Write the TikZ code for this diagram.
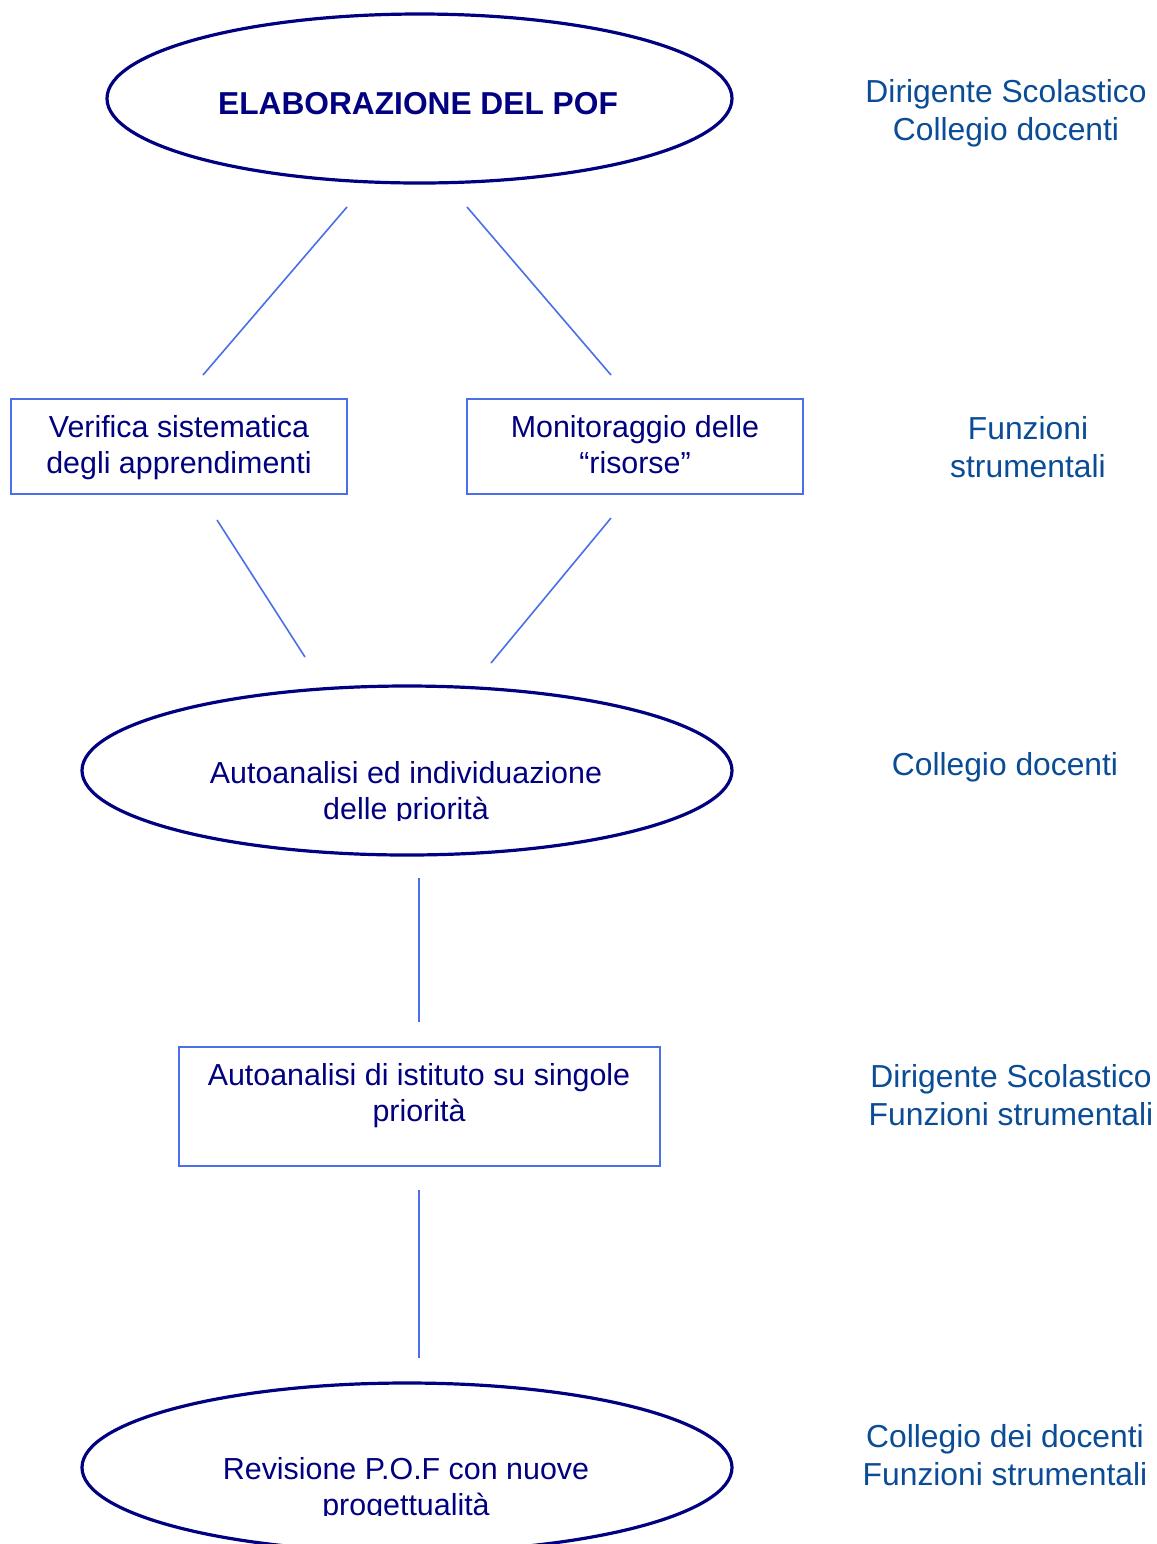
\documentclass[tikz,border=0pt]{standalone}
\usepackage{fontspec}
\setmainfont{Liberation Sans}
\usetikzlibrary{shapes.geometric}
\definecolor{navy}{HTML}{000080}
\definecolor{lineblue}{HTML}{4A6FE8}
\definecolor{sidetext}{HTML}{0B4C96}
\begin{document}
\begin{tikzpicture}[x=0.5pt,y=-0.5pt,
  ell/.style={draw=navy, line width=1.6pt, ellipse, inner sep=0pt, minimum width=#1},
  ell/.default=312.5pt,
  boxn/.style={draw=lineblue, line width=0.9pt, rectangle, inner sep=0pt},
  maintext/.style={text=navy, align=center, inner sep=0pt, font=\fontsize{15.2}{18}\selectfont},
  titletext/.style={text=navy, inner sep=0pt, font=\fontsize{15.85}{19}\selectfont\bfseries},
  side/.style={text=sidetext, align=center, inner sep=0pt, font=\fontsize{15.9}{19}\selectfont},
  conn/.style={draw=lineblue, line width=0.8pt}
]
\useasboundingbox (0,0) rectangle (1157,1544);
\clip (0,0) rectangle (1157,1544);
\fill[white] (0,0) rectangle (1157,1544);

% top ellipse
\node[ell, minimum height=84.5pt] (pof) at (419.5,98.5) {};
\node[titletext] (pofT) at (418,104) {ELABORAZIONE DEL POF};
\node[side] (r1) at (1006,113) {Dirigente Scolastico\\Collegio docenti};

% lines to boxes
\coordinate (a1) at (347,207); \coordinate (a2) at (203,375);
\coordinate (b1) at (467,207); \coordinate (b2) at (611,375);
\draw[conn] (a1) -- (a2);
\draw[conn] (b1) -- (b2);

% boxes
\node[boxn, minimum width=168pt, minimum height=47.5pt] (v) at (179,446.5) {};
\node[maintext] (vT) at (179,448) {Verifica sistematica\\degli apprendimenti};
\node[boxn, minimum width=168pt, minimum height=47.5pt] (m) at (635,446.5) {};
\node[maintext] (mT) at (635,445) {Monitoraggio delle\\“risorse”};
\node[side] (r2) at (1028,447) {Funzioni\\strumentali};

% lines to ellipse 2
\coordinate (c1) at (217,520); \coordinate (c2) at (305,657);
\coordinate (d1) at (611,518); \coordinate (d2) at (491,663);
\draw[conn] (c1) -- (c2);
\draw[conn] (d1) -- (d2);

% ellipse 2
\node[ell=325pt, minimum height=84.5pt] (auto) at (407,770.5) {};
\begin{scope}
\clip (80,700) rectangle (740,820);
\node[maintext] (autoT) at (406,794) {Autoanalisi ed individuazione\\delle priorità};
\end{scope}
\node[side] (r3) at (1005,767) {Collegio docenti};

\coordinate (e1) at (419,878); \coordinate (e2) at (419,1022);
\draw[conn] (e1) -- (e2);

% box 3
\node[boxn, minimum width=240.5pt, minimum height=59.5pt] (ist) at (419.5,1106.5) {};
\node[maintext] (istT) at (419,1096) {Autoanalisi di istituto su singole\\priorità};
\node[side] (r4) at (1011,1095) {Dirigente Scolastico\\Funzioni strumentali};

\coordinate (f1) at (419,1190); \coordinate (f2) at (419,1358);
\draw[conn] (f1) -- (f2);

% ellipse 3
\node[ell=325pt, minimum height=84.5pt] (rev) at (407,1467.5) {};
\begin{scope}
\clip (80,1400) rectangle (740,1515);
\node[maintext] (revT) at (406,1490) {Revisione P.O.F con nuove\\progettualità};
\end{scope}
\node[side] (r5) at (1005,1455) {Collegio dei docenti\\Funzioni strumentali};
\end{tikzpicture}
\end{document}
